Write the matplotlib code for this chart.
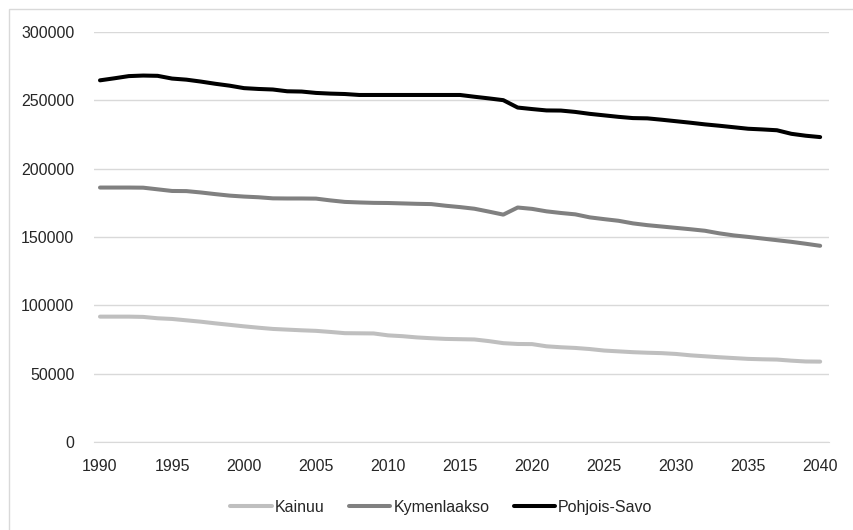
import numpy as np
import matplotlib
matplotlib.use('Agg')
import matplotlib.pyplot as plt
from matplotlib.patches import Rectangle

vuodet = list(range(1990, 2041))

kainuu = [91700, 91700, 91700, 91500, 90500, 90000, 89000, 88000, 86800, 85700,
          84600, 83600, 82700, 82200, 81700, 81300, 80500, 79600, 79500, 79400,
          78000, 77400, 76500, 75900, 75400, 75200, 75000, 73800, 72300, 71700,
          71600, 70000, 69300, 68800, 68000, 66900, 66300, 65700, 65300, 65000,
          64400, 63400, 62700, 62000, 61400, 60800, 60500, 60300, 59500, 58900,
          58800]

kymenlaakso = [186100, 186100, 186100, 186000, 184800, 183600, 183500, 182500, 181300, 180200,
               179500, 179000, 178200, 178100, 178100, 178000, 176700, 175600, 175200, 174900,
               174800, 174500, 174200, 174000, 172800, 171800, 170600, 168500, 166300, 171500,
               170500, 168700, 167500, 166500, 164300, 163000, 161800, 159900, 158600, 157600,
               156600, 155600, 154500, 152600, 151100, 150000, 148800, 147600, 146400, 145000,
               143500]

pohjois_savo = [264500, 266000, 267600, 268000, 267800, 265800, 265000, 263600, 262000, 260600,
                258800, 258200, 257800, 256500, 256300, 255300, 254800, 254500, 253800, 253800,
                253800, 253800, 253800, 253800, 253800, 253800, 252500, 251300, 250000, 244600,
                243500, 242500, 242400, 241400, 240000, 238900, 237800, 236900, 236700, 235700,
                234600, 233500, 232300, 231300, 230200, 229100, 228600, 228000, 225400, 224000,
                223000]

nimet = ['Kainuu', 'Kymenlaakso', 'Pohjois-Savo']
varit = ['#bfbfbf', '#808080', '#000000']

plt.rcParams['font.family'] = ['Liberation Sans', 'DejaVu Sans']

fig = plt.figure(figsize=(8.54, 5.30), dpi=100)
ax = fig.add_axes([0.110, 0.166, 0.861, 0.774])

# kehys kuvan ympari
fig.patches.append(Rectangle((9/854, -0.1), 1.2, 1 - 9/530 + 0.1, transform=fig.transFigure,
                             fill=False, edgecolor='#d9d9d9', linewidth=1))

for sarja, nimi, vari in zip([kainuu, kymenlaakso, pohjois_savo], nimet, varit):
    ax.plot(vuodet, sarja, color=vari, linewidth=2.9, label=nimi, solid_capstyle='round')

ax.set_xlim(1989.58, 2040.63)
ax.set_ylim(0, 300000)
ax.set_xticks(range(1990, 2041, 5))
ax.set_yticks(range(0, 300001, 50000))
ax.grid(axis='y', color='#d9d9d9', linewidth=1)
ax.set_axisbelow(True)
for s in ['top', 'right', 'left']:
    ax.spines[s].set_visible(False)
ax.spines['bottom'].set_color('#d9d9d9')
ax.tick_params(length=0, labelsize=11.5, colors='#262626')
ax.tick_params(axis='y', pad=14)
ax.tick_params(axis='x', pad=12)

fig.legend(loc='center', bbox_to_anchor=(0.517, 0.043), ncol=3, frameon=False,
           fontsize=11.5, handlelength=2.6, handletextpad=0.2, columnspacing=1.5,
           labelcolor='#262626')

fig.savefig('out.png', dpi=100)
